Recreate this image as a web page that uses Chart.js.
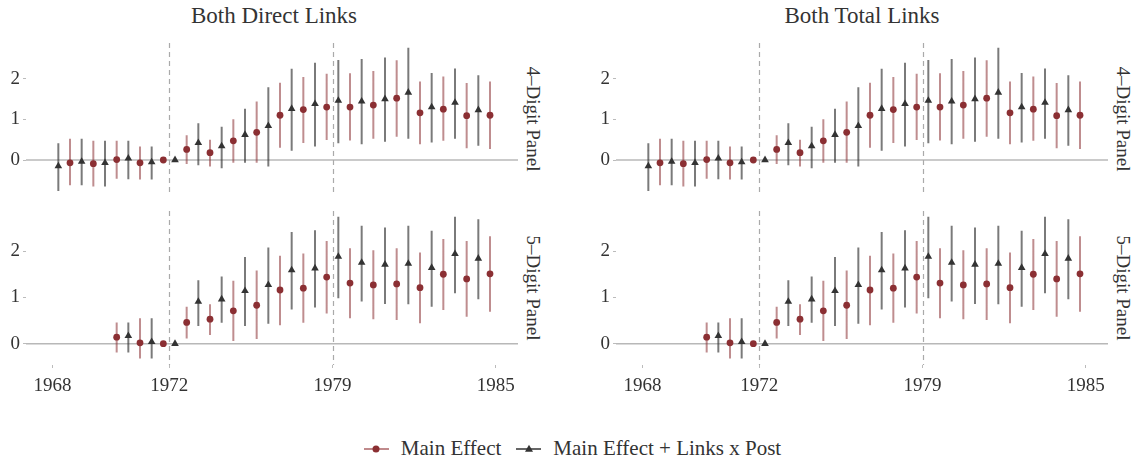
<!DOCTYPE html>
<html>
<head>
<meta charset="utf-8">
<script src="https://cdn.jsdelivr.net/npm/chart.js@4.4.1/dist/chart.umd.min.js"></script>
<style>
  body { margin: 0; background: #fff; width: 1138px; height: 464px; position: relative; overflow: hidden;
         font-family: "Liberation Serif", serif; color: #333; }
  canvas { position: absolute; }
  .title { position: absolute; top: 3px; width: 400px; text-align: center; font-size: 23px; }
  .strip { position: absolute; font-size: 19px; white-space: nowrap; transform: translate(-50%, -50%) rotate(90deg); }
  #legend { position: absolute; top: 436px; left: 0; width: 1145px; display: flex; justify-content: center;
            align-items: center; font-size: 21px; }
  .key { position: relative; width: 25px; height: 2px; margin-right: 12px; }
  .key span { position: absolute; left: 50%; top: 50%; }
  .dot { width: 7px; height: 7px; border-radius: 50%; background: #8b2f33; transform: translate(-50%, -50%); }
  .tri { width: 0; height: 0; border-left: 4px solid transparent; border-right: 4px solid transparent;
         border-bottom: 7px solid #333; transform: translate(-50%, -60%); }
</style>
</head>
<body>
<div class="title" style="left:74px">Both Direct Links</div>
<div class="title" style="left:662px">Both Total Links</div>
<div class="strip" style="left:533px; top:119px">4–Digit Panel</div>
<div class="strip" style="left:533px; top:288px">5–Digit Panel</div>
<div class="strip" style="left:1123px; top:119px">4–Digit Panel</div>
<div class="strip" style="left:1123px; top:288px">5–Digit Panel</div>

<canvas id="dir4" width="518" height="152" style="left:0; top:43px"></canvas>
<canvas id="dir5" width="518" height="186" style="left:0; top:211px"></canvas>
<canvas id="tot4" width="518" height="152" style="left:590px; top:43px"></canvas>
<canvas id="tot5" width="518" height="186" style="left:590px; top:211px"></canvas>

<div id="legend">
  <div class="key" style="background:#c08a8c"><span class="dot"></span></div>
  <span style="margin-right:15px">Main Effect</span>
  <div class="key" style="background:#666"><span class="tri"></span></div>
  <span>Main Effect + Links x Post</span>
</div>

<script>
// event-time slots on the x axis, and the years printed under them
var periods = [0, 1, 2, 3, 4, 5, 6, 7, 8, 9, 10, 11, 12, 13, 14, 15, 16, 17, 18, 19];
var tickPositions = [0, 5, 12, 19];
var tickLabels = ['1968', '1972', '1979', '1985'];
var refLines = [5, 12];

// 4-digit panel
var main4   = [null, -0.07, -0.09, 0.01, -0.07, 0, 0.26, 0.18, 0.47, 0.68, 1.10, 1.24, 1.30, 1.30, 1.35, 1.52, 1.16, 1.25, 1.09, 1.10];
var main4Lo = [null, -0.62, -0.65, -0.46, -0.48, 0, -0.10, -0.16, -0.07, -0.07, 0.30, 0.42, 0.49, 0.48, 0.52, 0.57, 0.39, 0.47, 0.29, 0.27];
var main4Hi = [null, 0.52, 0.47, 0.47, 0.33, 0, 0.61, 0.50, 1.00, 1.44, 1.90, 2.04, 2.12, 2.13, 2.19, 2.45, 1.93, 2.05, 1.89, 1.93];
var links4   = [-0.15, -0.04, -0.07, 0.04, -0.05, 0, 0.42, 0.34, 0.62, 0.84, 1.26, 1.38, 1.46, 1.44, 1.50, 1.66, 1.30, 1.41, 1.23, null];
var links4Lo = [-0.76, -0.62, -0.65, -0.47, -0.48, 0, -0.13, -0.20, -0.07, -0.16, 0.23, 0.33, 0.41, 0.39, 0.45, 0.52, 0.43, 0.52, 0.35, null];
var links4Hi = [0.41, 0.52, 0.47, 0.47, 0.33, 0, 0.90, 0.82, 1.26, 1.79, 2.24, 2.39, 2.46, 2.48, 2.52, 2.76, 2.14, 2.25, 2.08, null];

// 5-digit panel
var main5   = [null, null, null, 0.14, 0.02, 0, 0.46, 0.53, 0.71, 0.83, 1.16, 1.20, 1.44, 1.31, 1.27, 1.29, 1.21, 1.50, 1.40, 1.51];
var main5Lo = [null, null, null, -0.19, -0.32, 0, 0.11, 0.19, 0.06, 0.10, 0.40, 0.45, 0.65, 0.55, 0.53, 0.51, 0.44, 0.73, 0.58, 0.69];
var main5Hi = [null, null, null, 0.46, 0.55, 0, 0.80, 0.85, 1.36, 1.58, 1.90, 1.95, 2.22, 2.06, 2.02, 2.06, 1.97, 2.26, 2.22, 2.32];
var links5   = [null, null, null, 0.17, 0.04, 0, 0.91, 0.96, 1.14, 1.27, 1.59, 1.63, 1.88, 1.75, 1.71, 1.73, 1.64, 1.94, 1.84, null];
var links5Lo = [null, null, null, -0.19, -0.32, 0, 0.38, 0.45, 0.38, 0.43, 0.74, 0.78, 0.98, 0.91, 0.86, 0.85, 0.80, 1.09, 0.96, null];
var links5Hi = [null, null, null, 0.46, 0.55, 0, 1.37, 1.45, 1.87, 2.08, 2.41, 2.45, 2.74, 2.55, 2.51, 2.55, 2.44, 2.74, 2.69, null];

var redPoint = '#8b2f33', redBar = 'rgba(139,47,51,0.55)';
var darkPoint = '#333333', darkBar = 'rgba(51,51,51,0.65)';
var dodge = 0.25;

function pointsOf(vals, shift) {
    var out = [];
    periods.forEach(function (p, i) {
        if (vals[i] !== null) out.push({x: p + shift, y: vals[i]});
    });
    return out;
}

// each interval is two points and a break
function barsOf(lo, hi, shift) {
    var out = [];
    periods.forEach(function (p, i) {
        if (lo[i] === null) return;
        out.push({x: p + shift, y: lo[i]}, {x: p + shift, y: hi[i]}, {x: p + shift, y: null});
    });
    return out;
}

var refLinesPlugin = {
    id: 'refLines',
    beforeDatasetsDraw: function (chart) {
        var ctx = chart.ctx, a = chart.chartArea, x = chart.scales.x, y = chart.scales.y;
        ctx.save();
        ctx.strokeStyle = '#b8b8b8';
        ctx.lineWidth = 1.5;
        var y0 = y.getPixelForValue(0);
        ctx.beginPath(); ctx.moveTo(a.left, y0); ctx.lineTo(a.right, y0); ctx.stroke();
        ctx.setLineDash([5, 4]);
        ctx.strokeStyle = '#aaaaaa';
        ctx.lineWidth = 1.2;
        refLines.forEach(function (v) {
            var px = Math.round(x.getPixelForValue(v)) + 0.5;
            ctx.beginPath(); ctx.moveTo(px, a.top); ctx.lineTo(px, a.bottom); ctx.stroke();
        });
        ctx.restore();
    }
};

var tickFont = {family: '"Liberation Serif", serif', size: 19};

function makePanel(id, d, yMin, yMax, showX) {
    return new Chart(document.getElementById(id), {
        type: 'scatter',
        data: {
            datasets: [{
                label: 'Main Effect',
                data: pointsOf(d.main, -dodge),
                backgroundColor: redPoint, borderColor: redPoint,
                pointStyle: 'circle', pointRadius: 3.4, borderWidth: 0, order: 0
            }, {
                label: 'Main Effect + Links x Post',
                data: pointsOf(d.links, dodge),
                backgroundColor: darkPoint, borderColor: darkPoint,
                pointStyle: 'triangle', pointRadius: 4.4, borderWidth: 0, order: 0
            }, {
                data: barsOf(d.mainLo, d.mainHi, -dodge),
                showLine: true, spanGaps: false, borderColor: redBar, borderWidth: 2,
                pointRadius: 0, order: 1
            }, {
                data: barsOf(d.linksLo, d.linksHi, dodge),
                showLine: true, spanGaps: false, borderColor: darkBar, borderWidth: 2,
                pointRadius: 0, order: 1
            }]
        },
        options: {
            responsive: false,
            animation: false,
            layout: {padding: 0, autoPadding: false},
            plugins: {legend: {display: false}, tooltip: {enabled: false}},
            scales: {
                x: {
                    type: 'linear', min: -1.136, max: 19.95, display: showX,
                    afterBuildTicks: function (s) { s.ticks = tickPositions.map(function (v) { return {value: v}; }); },
                    afterFit: function (s) {
                        s.height = showX ? 32 : 0;
                        s.paddingLeft = 0; s.paddingRight = 0;
                    },
                    ticks: {
                        font: tickFont, color: '#333', padding: 7, maxRotation: 0, autoSkip: false,
                        callback: function (v) { return tickLabels[tickPositions.indexOf(v)]; }
                    },
                    grid: {drawOnChartArea: false, tickLength: 3, color: '#bbbbbb'},
                    border: {display: false}
                },
                y: {
                    type: 'linear', min: yMin, max: yMax,
                    afterBuildTicks: function (s) { s.ticks = [{value: 0}, {value: 1}, {value: 2}]; },
                    afterFit: function (s) { s.width = 26; s.paddingTop = 0; s.paddingBottom = 0; },
                    ticks: {font: tickFont, color: '#333', padding: 3},
                    grid: {drawOnChartArea: false, tickLength: 3, color: '#bbbbbb'},
                    border: {display: false}
                }
            }
        },
        plugins: [refLinesPlugin]
    });
}

var panel4 = {main: main4, mainLo: main4Lo, mainHi: main4Hi, links: links4, linksLo: links4Lo, linksHi: links4Hi};
var panel5 = {main: main5, mainLo: main5Lo, mainHi: main5Hi, links: links5, linksLo: links5Lo, linksHi: links5Hi};

// the direct and total link columns show the same estimates
makePanel('dir4', panel4, -0.86, 2.875, false);
makePanel('dir5', panel5, -0.46, 2.866, true);
makePanel('tot4', panel4, -0.86, 2.875, false);
makePanel('tot5', panel5, -0.46, 2.866, true);
</script>
</body>
</html>
